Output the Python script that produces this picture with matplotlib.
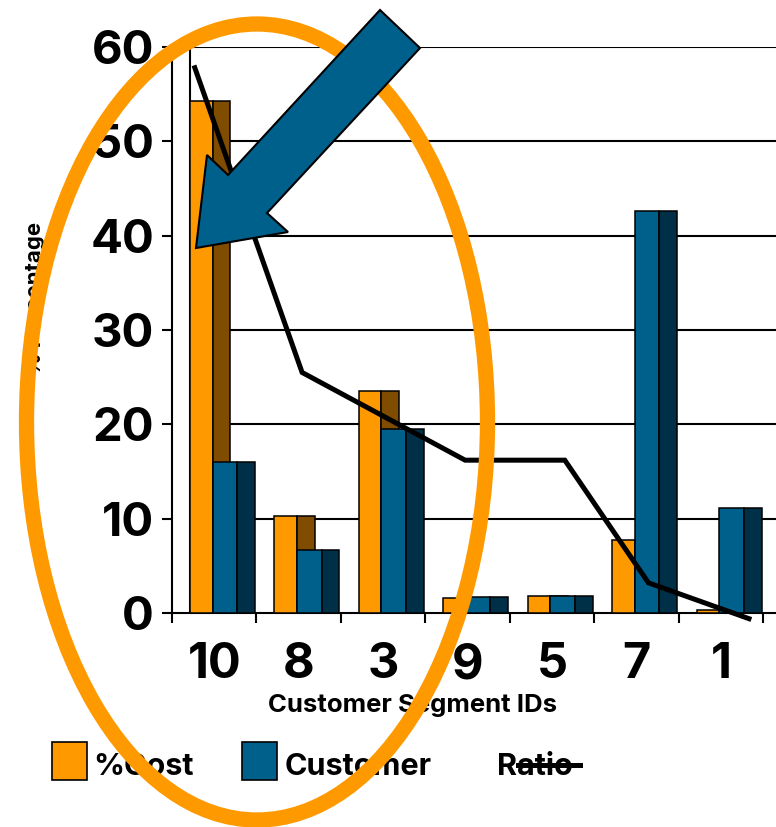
import numpy as np
import matplotlib
matplotlib.use("Agg")
import matplotlib.pyplot as plt
from matplotlib.patches import Rectangle, Ellipse, Polygon
from matplotlib.lines import Line2D

plt.rcParams['font.family'] = ['Inter', 'DejaVu Sans']
plt.rcParams['font.weight'] = 'bold'

# data
segments = ['10', '8', '3', '9', '5', '7', '1']
pct_cost = [54.3, 10.3, 23.5, 1.6, 1.8, 7.7, 0.3]
pct_customer = [16.0, 6.7, 19.5, 1.7, 1.8, 42.6, 11.1]
# ratio is a free-hand polyline in the original, x in category units
ratio_x = [-0.23, 1.04, 2.97, 4.15, 5.14, 6.33]
ratio = [57.8, 25.5, 16.2, 16.2, 3.2, -0.6]

W, H = 776, 827
def fx(px):
    return px / W
def fy(py):
    return 1 - py / H

orange = '#FF9900'
orange_side = '#7F4C00'
blue = '#00608C'
blue_side = '#003048'

fig = plt.figure(figsize=(W / 100, H / 100), dpi=100)
ax = fig.add_axes([fx(172), fy(613), fx(776) - fx(172), fy(47) - fy(613)])

x = np.arange(len(segments))
lw = 1.1
# fake 3d bars: front face + darker side face
ax.bar(x - 0.29, pct_cost, width=0.27, align='edge', color=orange, edgecolor='black', linewidth=lw, zorder=3)
ax.bar(x - 0.02, pct_cost, width=0.21, align='edge', color=orange_side, edgecolor='black', linewidth=lw, zorder=3)
ax.bar(x - 0.02, pct_customer, width=0.29, align='edge', color=blue, edgecolor='black', linewidth=lw, zorder=4)
ax.bar(x + 0.27, pct_customer, width=0.21, align='edge', color=blue_side, edgecolor='black', linewidth=lw, zorder=4)

ax.plot(ratio_x, ratio, color='black', lw=3.6, zorder=6, clip_on=False, solid_joinstyle='miter')

ax.set_xlim(-0.5, 6.65)
ax.set_ylim(0, 60)

# grid and back wall
ax.hlines(np.arange(10, 70, 10), -0.29, 6.65, color='black', lw=1.5, zorder=1)
ax.vlines(-0.29, 0, 60, color='black', lw=1.5, zorder=1)

for s in ['top', 'right']:
    ax.spines[s].set_visible(False)
for s in ['left', 'bottom']:
    ax.spines[s].set_linewidth(1.5)

ax.set_yticks(np.arange(0, 70, 10))
ax.tick_params(axis='y', direction='out', length=7, width=1.5, pad=6, labelsize=34)
ax.set_xticks(x)
ax.set_xticklabels(segments)
ax.tick_params(axis='x', which='major', length=0, pad=21, labelsize=35)
ax.set_xticks(np.arange(-0.5, 7, 1), minor=True)
ax.tick_params(axis='x', which='minor', direction='out', length=7, width=1.5)
for t in ax.get_xticklabels() + ax.get_yticklabels():
    t.set_fontweight('bold')

fig.text(fx(413), fy(712), 'Customer Segment IDs', ha='center', va='baseline', fontsize=18.5, fontweight='bold')
fig.text(fx(35), fy(298), '% Percentage', ha='center', va='center', rotation=90, fontsize=16, fontweight='bold')

# legend
fig.add_artist(Rectangle((fx(52), fy(780)), fx(35), fy(742) - fy(780), transform=fig.transFigure,
                         facecolor=orange, edgecolor='black', lw=1.2))
fig.text(fx(93), fy(775), '%Cost', ha='left', va='baseline', fontsize=22, fontweight='bold')
fig.add_artist(Rectangle((fx(242), fy(780)), fx(35), fy(742) - fy(780), transform=fig.transFigure,
                         facecolor=blue, edgecolor='black', lw=1.2))
fig.text(fx(285), fy(775), 'Customer', ha='left', va='baseline', fontsize=22, fontweight='bold')
fig.text(fx(497), fy(775), 'Ratio', ha='left', va='baseline', fontsize=22, fontweight='bold')
fig.add_artist(Line2D([fx(518), fx(580)], [fy(765), fy(765)], transform=fig.transFigure, color='black', lw=3.6))

# highlight ellipse and arrow
fig.add_artist(Ellipse((fx(257), fy(422)), fx(461), 796 / H, transform=fig.transFigure,
                       facecolor='none', edgecolor=orange, lw=11, zorder=9))
arrow_px = [(380, 10), (420, 48), (267, 213), (288, 232), (196, 248), (207, 155), (228, 175)]
fig.add_artist(Polygon([(fx(a), fy(b)) for a, b in arrow_px], closed=True, transform=fig.transFigure,
                       facecolor=blue, edgecolor='black', lw=1.5, zorder=10))

fig.savefig('out.png', dpi=100)
